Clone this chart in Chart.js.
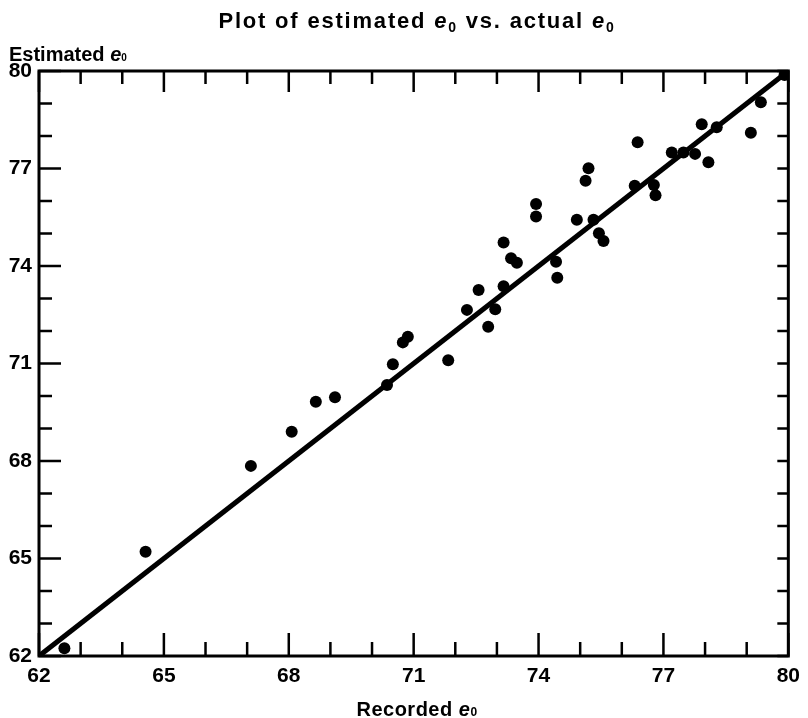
<!DOCTYPE html>
<html>
<head>
<meta charset="utf-8">
<script src="https://cdn.jsdelivr.net/npm/chart.js@4.4.0/dist/chart.umd.min.js"></script>
<style>
  body { margin: 0; background: #fff; }
  canvas { display: block; }
</style>
</head>
<body>
<canvas id="plot" width="808" height="718"></canvas>
<script>
// recorded e0 (x) and estimated e0 (y)
const recordedE0 = [
  62.61, 64.56, 67.09, 68.07, 68.65, 69.11, 70.36, 70.5, 70.74, 70.86,
  71.83, 72.28, 72.79, 72.96, 72.56, 73.16, 73.16, 73.34, 73.48, 73.94,
  73.94, 74.42, 74.45, 74.92, 75.32, 75.45, 75.56, 75.13, 75.2, 76.31,
  76.77, 76.81, 76.38, 77.2, 77.48, 77.76, 78.08, 77.92, 78.28, 79.1,
  79.34, 79.91
];
const estimatedE0 = [
  62.24, 65.21, 67.85, 68.9, 69.82, 69.96, 70.34, 70.98, 71.65, 71.82,
  71.1, 72.65, 72.13, 72.67, 73.26, 73.38, 74.72, 74.24, 74.1, 75.91,
  75.52, 74.13, 73.64, 75.42, 75.42, 75.01, 74.77, 76.62, 77.01, 76.47,
  76.49, 76.18, 77.81, 77.49, 77.49, 77.45, 77.19, 78.36, 78.27, 78.1,
  79.04, 79.88
];
// straight line through the cloud
const lineX = [62, 80];
const lineY = [62, 80];
// labelled ticks
const xTickLabels = [62, 65, 68, 71, 74, 77, 80];
const yTickLabels = [62, 65, 68, 71, 74, 77, 80];

const FONT = "'Liberation Sans', Arial, Helvetica, sans-serif";

const points = recordedE0.map((x, i) => ({ x: x, y: estimatedE0[i] }));
const linePoints = lineX.map((x, i) => ({ x: x, y: lineY[i] }));

// draws a line of text made of parts (plain, italic e, small subscript 0)
function drawRich(ctx, parts, x, y, align, spacing) {
  let total = 0;
  parts.forEach((p) => {
    ctx.font = (p.italic ? "italic " : "") + "bold " + p.size + "px " + FONT;
    for (const ch of p.text) total += ctx.measureText(ch).width + spacing;
  });
  let cx = align === "center" ? x - total / 2 : x;
  ctx.fillStyle = "#000";
  ctx.textAlign = "left";
  ctx.textBaseline = "alphabetic";
  parts.forEach((p) => {
    ctx.font = (p.italic ? "italic " : "") + "bold " + p.size + "px " + FONT;
    for (const ch of p.text) {
      ctx.fillText(ch, cx, y + (p.dy || 0));
      cx += ctx.measureText(ch).width + spacing;
    }
  });
}

const framePlugin = {
  id: "frame",
  afterDatasetsDraw(chart) {
    const ctx = chart.ctx;
    const a = chart.chartArea;
    const xs = chart.scales.x;
    const ys = chart.scales.y;
    ctx.save();
    ctx.strokeStyle = "#000";
    ctx.lineWidth = 2.5;
    ctx.lineCap = "butt";
    ctx.beginPath();
    xs.ticks.forEach((t) => {
      const px = xs.getPixelForValue(t.value);
      const major = xTickLabels.includes(t.value);
      // bottom ticks point up, top ticks point down
      ctx.moveTo(px, a.bottom);
      ctx.lineTo(px, a.bottom - (major ? 23 : 14));
      ctx.moveTo(px, a.top);
      ctx.lineTo(px, a.top + (major ? 21 : 13));
    });
    ys.ticks.forEach((t) => {
      const py = ys.getPixelForValue(t.value);
      const major = yTickLabels.includes(t.value);
      ctx.moveTo(a.left, py);
      ctx.lineTo(a.left + (major ? 22 : 13), py);
      ctx.moveTo(a.right, py);
      ctx.lineTo(a.right - 11, py);
    });
    ctx.stroke();
    ctx.lineWidth = 3;
    ctx.strokeRect(a.left, a.top, a.right - a.left, a.bottom - a.top);
    ctx.restore();
  },
  afterDraw(chart) {
    const ctx = chart.ctx;
    ctx.save();
    drawRich(ctx, [
      { text: "Plot of estimated ", size: 22 },
      { text: "e", size: 22, italic: true },
      { text: "0", size: 14, dy: 4 },
      { text: " vs. actual ", size: 22 },
      { text: "e", size: 22, italic: true },
      { text: "0", size: 14, dy: 4 }
    ], 417, 28, "center", 1.8);
    drawRich(ctx, [
      { text: "Estimated ", size: 20 },
      { text: "e", size: 20, italic: true },
      { text: "0", size: 10 }
    ], 9, 61, "left", 0);
    drawRich(ctx, [
      { text: "Recorded ", size: 20 },
      { text: "e", size: 20, italic: true },
      { text: "0", size: 12 }
    ], 417, 716, "center", 0.5);
    ctx.restore();
  }
};

function tickLabel(list) {
  return function (value) {
    return list.includes(value) ? String(value) : "";
  };
}

new Chart(document.getElementById("plot"), {
  type: "scatter",
  data: {
    datasets: [
      {
        label: "Estimated vs recorded",
        data: points,
        backgroundColor: "#000",
        borderColor: "#000",
        pointRadius: 6,
        pointHoverRadius: 6,
        borderWidth: 0
      },
      {
        type: "line",
        label: "Line",
        data: linePoints,
        borderColor: "#000",
        borderWidth: 5,
        pointRadius: 0,
        fill: false
      }
    ]
  },
  options: {
    responsive: false,
    animation: false,
    devicePixelRatio: 1,
    layout: { padding: { top: 71, right: 17, left: 0, bottom: 0 } },
    plugins: {
      legend: { display: false },
      tooltip: { enabled: false },
      title: { display: false }
    },
    scales: {
      x: {
        type: "linear",
        min: 62,
        max: 80,
        grid: { display: false, drawTicks: false },
        border: { display: false },
        ticks: {
          stepSize: 1,
          autoSkip: false,
          maxRotation: 0,
          padding: 8,
          color: "#000",
          font: { family: FONT, size: 21, weight: "bold" },
          callback: tickLabel(xTickLabels)
        },
        afterFit(scale) {
          scale.height = 62;
        }
      },
      y: {
        type: "linear",
        min: 62,
        max: 80,
        grid: { display: false, drawTicks: false },
        border: { display: false },
        ticks: {
          stepSize: 1,
          autoSkip: false,
          padding: 7,
          color: "#000",
          font: { family: FONT, size: 21, weight: "bold" },
          callback: tickLabel(yTickLabels)
        },
        afterFit(scale) {
          scale.width = 39;
        }
      }
    }
  },
  plugins: [framePlugin]
});
</script>
</body>
</html>
